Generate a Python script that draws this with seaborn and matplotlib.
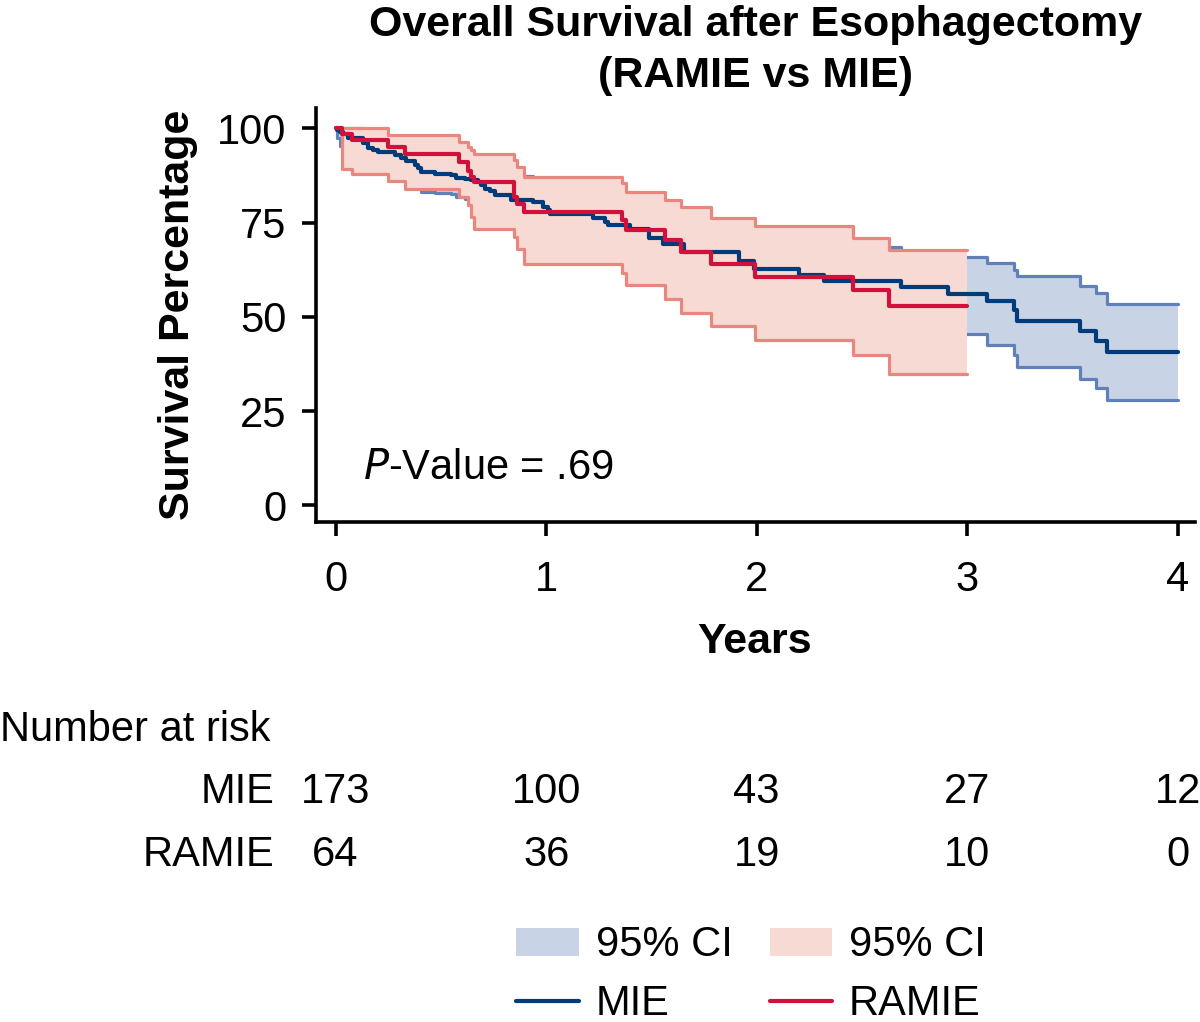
import numpy as np
import pandas as pd
import seaborn as sns
import matplotlib.pyplot as plt
from matplotlib.lines import Line2D
from matplotlib.patches import Patch
from matplotlib.transforms import blended_transform_factory

# MIE Kaplan-Meier estimate (years, survival %) with 95% CI
mie_t = [0, 0.005, 0.019, 0.035, 0.059, 0.13, 0.154, 0.178, 0.201, 0.28,
         0.312, 0.336, 0.375, 0.391, 0.407, 0.47, 0.549, 0.573, 0.613, 0.645,
         0.676, 0.692, 0.708, 0.732, 0.756, 0.834, 0.937, 0.985, 1.009, 1.02,
         1.222, 1.278, 1.294, 1.397, 1.487, 1.555, 1.657, 1.917, 1.985, 2.201,
         2.32, 2.686, 2.908, 3.095, 3.224, 3.235, 3.534, 3.614, 3.665, 4.0]
mie_s = [100, 99.5, 99.1, 98.4, 97.4, 96.0, 94.9, 94.3, 93.8, 93.0,
         92.0, 91.3, 90.3, 89.4, 88.5, 87.9, 87.6, 86.9, 86.6, 86.2,
         85.8, 85.0, 84.0, 83.4, 82.3, 81.1, 80.5, 79.2, 78.3, 77.4,
         76.1, 75.2, 74.3, 73.4, 71.0, 69.4, 67.2, 64.7, 62.7, 61.2,
         59.6, 57.9, 56.1, 54.3, 51.7, 49.0, 46.1, 43.7, 40.6, 40.6]
mie_lo = [100, 97.5, 95.3, 94.4, 93.4, 91.8, 90.6, 89.9, 89.3, 88.4,
          87.2, 86.4, 85.2, 84.2, 83.2, 82.9, 82.6, 81.7, 81.2, 80.6,
          80.1, 79.2, 78.1, 77.3, 76.1, 74.8, 74.1, 72.7, 71.7, 70.7,
          69.2, 68.1, 67.1, 66.0, 63.3, 61.5, 59.0, 56.2, 54.0, 52.3,
          50.5, 48.6, 45.4, 42.6, 39.8, 36.7, 33.6, 31.0, 27.9, 27.9]
mie_hi = [100, 100, 100, 100, 100, 99.6, 99.0, 98.5, 98.0, 97.5,
          96.7, 96.1, 95.3, 94.5, 93.8, 93.2, 92.9, 92.3, 92.0, 91.7,
          91.4, 90.7, 89.8, 89.3, 88.3, 87.3, 86.8, 85.6, 84.8, 84.0,
          82.9, 82.1, 81.3, 80.6, 78.6, 77.2, 75.3, 73.1, 71.3, 70.0,
          68.6, 67.2, 65.9, 64.3, 62.5, 60.8, 58.3, 56.2, 53.5, 53.5]

# RAMIE Kaplan-Meier estimate with 95% CI
ramie_t = [0, 0.03, 0.076, 0.249, 0.331, 0.585, 0.631, 0.645, 0.658, 0.846,
           0.86, 0.895, 1.362, 1.38, 1.563, 1.64, 1.784, 1.99, 2.458, 2.63, 3.0]
ramie_s = [100, 98.4, 96.8, 95.0, 93.3, 91.0, 88.8, 87.2, 85.7, 81.8,
           80.0, 77.8, 75.6, 72.9, 70.3, 67.2, 63.9, 60.6, 57.2, 52.8, 52.8]
ramie_lo = [100, 89.3, 88.0, 86.0, 83.8, 81.9, 79.6, 76.5, 73.4, 71.2,
            68.1, 64.1, 61.5, 58.5, 54.6, 51.1, 47.5, 43.9, 39.9, 34.9, 34.9]
ramie_hi = [100, 100, 100, 98.1, 98.1, 96.4, 95.0, 94.2, 93.3, 91.5,
            89.7, 87.0, 85.4, 83.1, 80.9, 79.0, 76.3, 74.1, 70.8, 67.8, 67.8]

year_ticks = [0, 1, 2, 3, 4]
risk_mie = [173, 100, 43, 27, 12]
risk_ramie = [64, 36, 19, 10, 0]

MIE_LINE = "#003B7A"
MIE_EDGE = "#5F80B8"
MIE_FILL = "#C9D3E6"
RAMIE_LINE = "#D2103C"
RAMIE_EDGE = "#E8877D"
RAMIE_FILL = "#F8DAD4"
FS = 30

sns.set_style("ticks")
plt.rcParams['font.family'] = ['Liberation Sans', 'DejaVu Sans']
plt.rcParams['text.color'] = 'black'
plt.rcParams['axes.labelcolor'] = 'black'
plt.rcParams['xtick.color'] = 'black'
plt.rcParams['ytick.color'] = 'black'

mie = pd.DataFrame({"t": mie_t, "s": mie_s, "lo": mie_lo, "hi": mie_hi})
ramie = pd.DataFrame({"t": ramie_t, "s": ramie_s, "lo": ramie_lo, "hi": ramie_hi})

fig = plt.figure(figsize=(12, 10.22), dpi=100)
ax = fig.add_axes([0.263, 0.489, 0.7325, 0.405])

z = 1
for df, edge, fill in [(mie, MIE_EDGE, MIE_FILL), (ramie, RAMIE_EDGE, RAMIE_FILL)]:
    ax.fill_between(df["t"], df["lo"], df["hi"], step="post", color=fill,
                    linewidth=0, zorder=z)
    for col in ["lo", "hi"]:
        sns.lineplot(data=df, x="t", y=col, ax=ax, color=edge, linewidth=2.3,
                     drawstyle="steps-post", estimator=None, zorder=z + 0.5)
    z += 1

sns.lineplot(data=mie, x="t", y="s", ax=ax, color=MIE_LINE, linewidth=3.0,
             drawstyle="steps-post", estimator=None, zorder=5)
sns.lineplot(data=ramie, x="t", y="s", ax=ax, color=RAMIE_LINE, linewidth=3.0,
             drawstyle="steps-post", estimator=None, zorder=6)

ax.set_xlim(-0.095, 4.08)
ax.set_ylim(-4.5, 105.3)
ax.set_xticks(year_ticks)
ax.set_yticks([0, 25, 50, 75, 100])
ax.tick_params(axis="both", labelsize=FS, length=10, width=2.6)
ax.tick_params(axis="x", pad=17)
ax.tick_params(axis="y", pad=11)
for sp in ["left", "bottom"]:
    ax.spines[sp].set_linewidth(2.6)
    ax.spines[sp].set_color("black")
sns.despine(ax=ax)

ax.set_xlabel("Years", fontsize=31, fontweight="bold", labelpad=16)
ax.set_ylabel("Survival Percentage", fontsize=31, fontweight="bold", labelpad=14)
ax.set_title("Overall Survival after Esophagectomy\n(RAMIE vs MIE)",
             fontsize=31, fontweight="bold", pad=15, linespacing=1.38)

ax.text(0.128, 6.9, r"$\it{P}$-Value = .69", fontsize=FS, va="baseline")

# number at risk table
tr = blended_transform_factory(ax.transData, fig.transFigure)
fig.text(0.0, 0.286, "Number at risk", fontsize=FS, va="center", ha="left")
fig.text(0.229, 0.225, "MIE", fontsize=FS, va="center", ha="right")
fig.text(0.229, 0.163, "RAMIE", fontsize=FS, va="center", ha="right")
for x, a, b in zip(year_ticks, risk_mie, risk_ramie):
    ax.text(x, 0.225, str(a), fontsize=FS, va="center", ha="center",
            transform=tr, clip_on=False)
    ax.text(x, 0.163, str(b), fontsize=FS, va="center", ha="center",
            transform=tr, clip_on=False)

handles = [Patch(facecolor=MIE_FILL, edgecolor="none"),
           Line2D([], [], color=MIE_LINE, linewidth=3.0),
           Patch(facecolor=RAMIE_FILL, edgecolor="none"),
           Line2D([], [], color=RAMIE_LINE, linewidth=3.0)]
labels = ["95% CI", "MIE", "95% CI", "RAMIE"]
fig.legend(handles, labels, ncol=2, loc="upper left",
           bbox_to_anchor=(0.413, 0.115), frameon=False, fontsize=FS,
           handlelength=1.5, handleheight=0.67, handletextpad=0.4,
           columnspacing=0.9, labelspacing=0.45, borderpad=0)

fig.savefig("out.png", dpi=100)
